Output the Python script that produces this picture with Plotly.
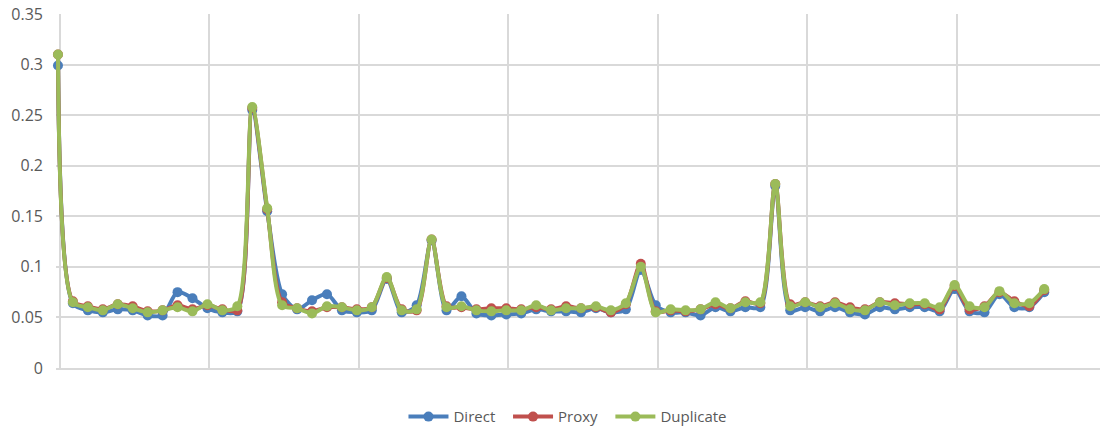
import plotly.graph_objects as go

idx = list(range(67))

direct = [0.299, 0.064, 0.057, 0.055, 0.058, 0.057, 0.052, 0.052, 0.075, 0.069,
          0.059, 0.055, 0.056, 0.255, 0.155, 0.073, 0.058, 0.067, 0.073, 0.057,
          0.055, 0.057, 0.088, 0.055, 0.062, 0.126, 0.057, 0.071, 0.054, 0.052,
          0.053, 0.054, 0.058, 0.056, 0.056, 0.055, 0.059, 0.055, 0.058, 0.097,
          0.062, 0.055, 0.055, 0.052, 0.060, 0.056, 0.060, 0.060, 0.180, 0.057,
          0.060, 0.056, 0.060, 0.055, 0.053, 0.060, 0.058, 0.060, 0.060, 0.056,
          0.078, 0.056, 0.055, 0.073, 0.060, 0.060, 0.075]

proxy = [0.310, 0.066, 0.061, 0.058, 0.063, 0.061, 0.056, 0.057, 0.062, 0.058,
         0.062, 0.058, 0.057, 0.257, 0.157, 0.065, 0.059, 0.056, 0.060, 0.060,
         0.058, 0.060, 0.089, 0.058, 0.057, 0.127, 0.061, 0.060, 0.058, 0.059,
         0.059, 0.058, 0.060, 0.058, 0.061, 0.059, 0.060, 0.055, 0.063, 0.103,
         0.056, 0.057, 0.056, 0.058, 0.063, 0.059, 0.066, 0.064, 0.182, 0.063,
         0.065, 0.061, 0.065, 0.060, 0.058, 0.065, 0.064, 0.063, 0.063, 0.058,
         0.081, 0.058, 0.061, 0.075, 0.066, 0.061, 0.077]

duplicate = [0.310, 0.065, 0.060, 0.057, 0.063, 0.059, 0.055, 0.057, 0.060, 0.056,
             0.063, 0.057, 0.061, 0.258, 0.158, 0.062, 0.059, 0.054, 0.061, 0.060,
             0.057, 0.060, 0.090, 0.057, 0.058, 0.127, 0.060, 0.061, 0.057, 0.056,
             0.057, 0.057, 0.062, 0.057, 0.059, 0.059, 0.061, 0.057, 0.064, 0.100,
             0.055, 0.058, 0.057, 0.058, 0.065, 0.059, 0.065, 0.065, 0.182, 0.061,
             0.065, 0.060, 0.064, 0.058, 0.057, 0.065, 0.062, 0.064, 0.064, 0.060,
             0.082, 0.061, 0.060, 0.076, 0.064, 0.064, 0.078]

series_names = ["Direct", "Proxy", "Duplicate"]
series_colors = ["#4A7EBB", "#C0504D", "#9BBB59"]
series_values = [direct, proxy, duplicate]

fig = go.Figure()
for k, (name, vals, color) in enumerate(zip(series_names, series_values, series_colors)):
    pad = "\u00a0\u00a0" if k < 2 else ""
    fig.add_trace(go.Scatter(
        x=idx, y=vals, name=name + pad, mode="lines+markers",
        line=dict(color=color, width=4, shape="spline", smoothing=0.8),
        marker=dict(color=color, size=10),
        cliponaxis=False,
    ))

grid = "#D9D9D9"
fig.update_layout(
    width=1100, height=428,
    margin=dict(l=56, r=0, t=14, b=60),
    paper_bgcolor="white", plot_bgcolor="white",
    font=dict(family="Open Sans, Lato, sans-serif", size=16, color="#595959"),
    showlegend=True,
    legend=dict(orientation="h", x=0.4904, xanchor="center",
                yref="container", y=0.026, yanchor="middle",
                bgcolor="rgba(0,0,0,0)",
                font=dict(family="Open Sans, sans-serif", size=15, color="#595959"),
                itemwidth=40, traceorder="normal"),
    xaxis=dict(range=[-0.133, 69.73], tick0=0.133, dtick=10, showticklabels=False,
               showgrid=True, gridcolor=grid, gridwidth=2, zeroline=False,
               showline=True, linecolor=grid, linewidth=2, ticks="",
               automargin=False),
    yaxis=dict(range=[0, 0.35], dtick=0.05, tick0=0, showgrid=True, gridcolor=grid,
               gridwidth=2, zeroline=False, showline=False, ticks="",
               ticklabelstandoff=12, automargin=False),
)

fig.write_html("out.html", config={"displayModeBar": False},
               post_script="document.body.style.margin='0';")
